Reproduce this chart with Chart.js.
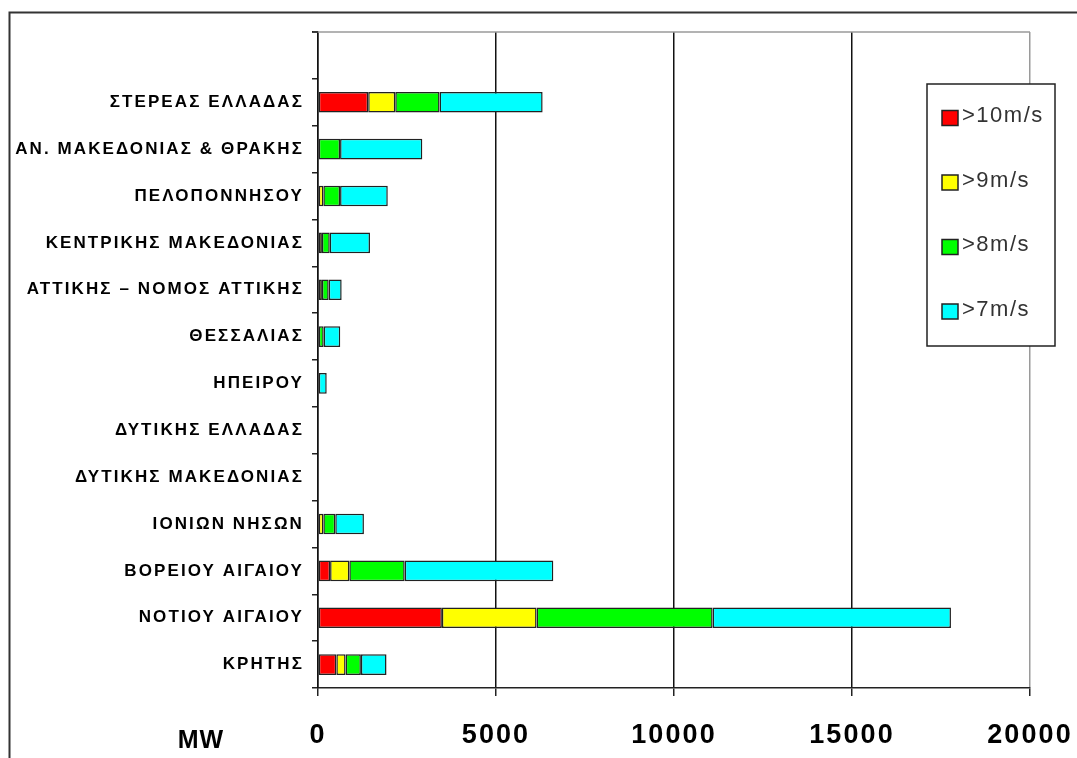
<!DOCTYPE html>
<html lang="el">
<head>
<meta charset="utf-8">
<title>Αιολικό δυναμικό ανά περιφέρεια (MW)</title>
<script src="https://cdn.jsdelivr.net/npm/chart.js@4.4.1/dist/chart.umd.min.js"></script>
<style>
  html, body { margin: 0; padding: 0; background: #fff; }
  #wrap { width: 1077px; height: 758px; position: relative; }
</style>
</head>
<body>
<div id="wrap"><canvas id="chart" width="1077" height="758"></canvas></div>
<script>
// Regions, top to bottom (the first slot is left empty)
const regions = [
  '',
  'ΣΤΕΡΕΑΣ ΕΛΛΑΔΑΣ',
  'ΑΝ. ΜΑΚΕΔΟΝΙΑΣ & ΘΡΑΚΗΣ',
  'ΠΕΛΟΠΟΝΝΗΣΟΥ',
  'ΚΕΝΤΡΙΚΗΣ ΜΑΚΕΔΟΝΙΑΣ',
  'ΑΤΤΙΚΗΣ – ΝΟΜΟΣ ΑΤΤΙΚΗΣ',
  'ΘΕΣΣΑΛΙΑΣ',
  'ΗΠΕΙΡΟΥ',
  'ΔΥΤΙΚΗΣ ΕΛΛΑΔΑΣ',
  'ΔΥΤΙΚΗΣ ΜΑΚΕΔΟΝΙΑΣ',
  'ΙΟΝΙΩΝ ΝΗΣΩΝ',
  'ΒΟΡΕΙΟΥ ΑΙΓΑΙΟΥ',
  'ΝΟΤΙΟΥ ΑΙΓΑΙΟΥ',
  'ΚΡΗΤΗΣ'
];

// Installed capacity (MW) per wind-speed band
const over10 = [null, 1410,    0,    0,    0,   0,   0,   0, 0, 0,   0,  340, 3480, 515];
const over9  = [null,  760,    0,  150,  110, 110,   0,   0, 0, 0, 150,  540, 2660, 260];
const over8  = [null, 1245,  620,  470,  220, 190, 160,   0, 0, 0, 335, 1555, 4945, 430];
const over7  = [null, 2895, 2310, 1340, 1130, 365, 465, 245, 0, 0, 805, 4175, 6695, 720];

const seriesNames = ['>10m/s', '>9m/s', '>8m/s', '>7m/s'];
const seriesColors = ['#ff0000', '#ffff00', '#00ff00', '#00ffff'];

const xTicks = [0, 5000, 10000, 15000, 20000];
const unitLabel = 'MW';

const seriesData = [over10, over9, over8, over7];

const datasets = seriesData.map((values, i) => ({
  label: seriesNames[i],
  data: values,
  backgroundColor: seriesColors[i],
  borderColor: '#222',
  borderWidth: 1.5,
  borderSkipped: false,
  categoryPercentage: 1.0,
  barPercentage: 0.44
}));

const FONT = "'Liberation Sans', Arial, sans-serif";

// Page frame, top/right plot border, unit label and boxed legend
const decorations = {
  id: 'decorations',
  beforeDraw(chart) {
    const ctx = chart.ctx;
    ctx.save();
    ctx.fillStyle = '#fff';
    ctx.fillRect(0, 0, chart.width, chart.height);
    ctx.strokeStyle = '#333';
    ctx.lineWidth = 2;
    ctx.beginPath();
    ctx.moveTo(9.5, chart.height);
    ctx.lineTo(9.5, 12.5);
    ctx.lineTo(chart.width, 12.5);
    ctx.stroke();
    ctx.restore();
    ctx.letterSpacing = '2.1px';
  },
  afterDraw(chart) {
    const ctx = chart.ctx;
    const a = chart.chartArea;
    ctx.save();
    // top border of the plot
    ctx.strokeStyle = '#9a9a9a';
    ctx.lineWidth = 1.5;
    ctx.beginPath();
    ctx.moveTo(a.left - 5, a.top);
    ctx.lineTo(a.right, a.top);
    ctx.stroke();
    ctx.strokeStyle = '#222';
    ctx.beginPath();
    ctx.moveTo(a.left - 6, a.top);
    ctx.lineTo(a.left, a.top);
    ctx.stroke();

    // unit label
    ctx.letterSpacing = '1px';
    ctx.fillStyle = '#000';
    ctx.font = 'bold 25px ' + FONT;
    ctx.textAlign = 'center';
    ctx.textBaseline = 'middle';
    ctx.fillText(unitLabel, 201, 741);

    // legend box
    const bx = 927, by = 84, bw = 128, bh = 262;
    ctx.fillStyle = '#fff';
    ctx.fillRect(bx, by, bw, bh);
    ctx.strokeStyle = '#222';
    ctx.lineWidth = 1.5;
    ctx.strokeRect(bx, by, bw, bh);
    ctx.letterSpacing = '1.5px';
    ctx.font = '22px ' + FONT;
    ctx.textAlign = 'left';
    chart.data.datasets.forEach((ds, i) => {
      const cy = 118 + i * 64.5;
      ctx.fillStyle = ds.backgroundColor;
      ctx.fillRect(942, cy - 7.5, 16, 15);
      ctx.strokeStyle = '#222';
      ctx.lineWidth = 1.5;
      ctx.strokeRect(942, cy - 7.5, 16, 15);
      ctx.fillStyle = '#333';
      ctx.fillText(ds.label, 962, cy - 2);
    });
    ctx.restore();
  }
};

new Chart(document.getElementById('chart'), {
  type: 'bar',
  data: { labels: regions, datasets },
  plugins: [decorations],
  options: {
    indexAxis: 'y',
    responsive: false,
    animation: false,
    layout: { padding: { top: 32, right: 47, left: 0, bottom: 0 } },
    plugins: {
      legend: { display: false },
      tooltip: { enabled: false }
    },
    scales: {
      x: {
        stacked: true,
        min: 0,
        max: 20000,
        afterBuildTicks(scale) {
          scale.ticks = xTicks.map(v => ({ value: v }));
        },
        afterFit(scale) {
          scale.height = 70;
          scale.paddingLeft = 0;
          scale.paddingRight = 0;
        },
        border: { display: true, color: '#222', width: 1.5 },
        grid: {
          drawOnChartArea: true,
          drawTicks: true,
          tickLength: 8,
          lineWidth: 1.5,
          color: ctx => (ctx.tick && ctx.tick.value === 20000) ? '#9a9a9a' : '#111',
          tickColor: '#222'
        },
        ticks: {
          padding: 23,
          color: '#000',
          maxRotation: 0,
          autoSkip: false,
          font: { family: FONT, size: 27, weight: 'bold' },
          callback: v => String(v)
        }
      },
      y: {
        stacked: true,
        afterFit(scale) { scale.width = 318; },
        border: { display: true, color: '#111', width: 1.5 },
        grid: {
          offset: true,
          drawOnChartArea: false,
          drawTicks: true,
          tickLength: 6,
          lineWidth: 1.5,
          tickColor: '#222'
        },
        ticks: {
          padding: 8,
          color: '#000',
          autoSkip: false,
          font: { family: FONT, size: 17, weight: 'bold' }
        }
      }
    }
  }
});
</script>
</body>
</html>
